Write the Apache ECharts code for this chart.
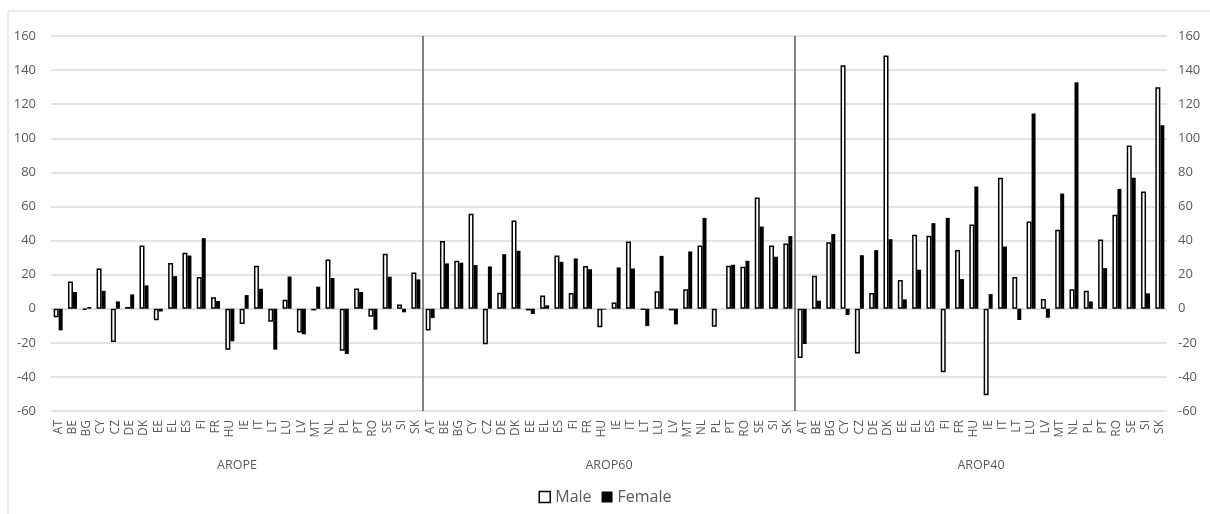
<!DOCTYPE html>
<html><head><meta charset="utf-8">
<script src="https://cdn.jsdelivr.net/npm/echarts@6/dist/echarts.min.js"></script>
<style>html,body{margin:0;padding:0;background:#fff}#c{width:1210px;height:514px}</style>
</head><body><div id="c"></div>
<script>
const countries = ['AT','BE','BG','CY','CZ','DE','DK','EE','EL','ES','FI','FR','HU','IE','IT','LT','LU','LV','MT','NL','PL','PT','RO','SE','SI','SK'];
const groups = ['AROPE','AROP60','AROP40'];
const yTicks = [-60,-40,-20,0,20,40,60,80,100,120,140,160];

const maleAROPE   = [-5,16,-0.5,23.6,-19.5,1,37.1,-6.8,26.8,32.8,18.6,6.8,-24,-9,25.2,-7.6,5.3,-13.9,-1,28.9,-24.6,11.9,-4.7,32.2,2.5,21.3];
const femaleAROPE = [-12.7,9.8,1,10.5,4.3,8.4,13.7,-1.6,19.1,31.2,41.4,4.5,-19.1,8,11.7,-24,18.9,-15,12.9,18,-26.6,9.8,-12.3,18.8,-2.1,17.2];
const maleAROP60   = [-12.7,39.8,28.1,55.7,-20.9,9.4,51.8,-1,7.8,31.2,9.2,25,-10.9,3.7,39.5,-0.5,10.2,-1,11.5,37.1,-10.5,25.2,24.6,65.2,37.1,38.3];
const femaleAROP60 = [-5.5,26.6,27,25.6,24.8,32,34,-3.1,2,27.5,29.5,23.2,-0.5,24.2,23.6,-10.2,31,-9.2,33.6,53.3,0,25.8,28.1,48.2,30.5,42.6];
const maleAROP40   = [-28.9,19.3,39,142.8,-26.2,9.2,148.6,16.8,43.4,42.8,-37.3,34.4,49.4,-50.8,76.8,18.6,51.2,5.7,46.3,11.5,10.5,40.6,55.1,95.7,68.8,129.9];
const femaleAROP40 = [-20.7,4.7,43.8,-3.7,31.4,34.4,40.8,5.5,22.9,50.2,53.3,17.4,71.7,8.6,36.5,-6.6,114.5,-5.3,67.6,132.8,4.3,23.8,70.3,76.8,9,107.6];

const cats = [];
groups.forEach(g => countries.forEach(c => cats.push(g + '|' + c)));
const maleAll = maleAROPE.concat(maleAROP60, maleAROP40);
const femaleAll = femaleAROPE.concat(femaleAROP60, femaleAROP40);

const txt = '#595959';
const font = 'Open Sans';
const chart = echarts.init(document.getElementById('c'));
chart.setOption({
  animation: false,
  backgroundColor: '#fff',
  graphic: [{type:'rect', shape:{x:8, y:11, width:1210, height:520}, style:{fill:'none', stroke:'#d9d9d9', lineWidth:1}, silent:true}],
  grid: {left: 51, right: 43, top: 36, bottom: 103},
  legend: {
    bottom: 4, left: 'center', itemWidth: 11, itemHeight: 11, itemGap: 10,
    textStyle: {color: txt, fontFamily: font, fontSize: 16},
    data: [
      {name:'Male', icon:'rect', itemStyle:{color:'#fff', borderColor:'#000', borderWidth:1.5}},
      {name:'Female', icon:'rect', itemStyle:{color:'#000'}}
    ]
  },
  xAxis: [
    {
      type: 'category', data: cats, position: 'bottom',
      axisLine: {show: false}, axisTick: {show: false},
      axisLabel: {interval: 0, rotate: 90, color: txt, fontFamily: font, fontSize: 12, margin: 9,
        formatter: v => v.split('|')[1]},
      splitLine: {show: false}
    },
    {
      type: 'category', data: groups, position: 'bottom', offset: 40,
      axisLine: {show: false}, axisTick: {show: false},
      axisLabel: {interval: 0, color: txt, fontFamily: font, fontSize: 12.5},
      splitLine: {show: true, interval: 0, showMinLine: false, showMaxLine: false, lineStyle: {color: '#595959', width: 1.5}}
    }
  ],
  yAxis: [
    {
      type: 'value', min: -60, max: 160, interval: 20, position: 'left',
      axisLine: {show: false}, axisTick: {show: false},
      axisLabel: {color: txt, fontFamily: font, fontSize: 13, margin: 15},
      splitLine: {lineStyle: {color: '#d9d9d9', width: 1.5}}
    },
    {
      type: 'value', min: -60, max: 160, interval: 20, position: 'right',
      axisLine: {show: false}, axisTick: {show: false},
      axisLabel: {color: txt, fontFamily: font, fontSize: 13, margin: 11},
      splitLine: {show: false}
    }
  ],
  series: [
    {name: 'Male', type: 'bar', data: maleAll, barWidth: 5, barGap: '0%',
      itemStyle: {color: '#fff', borderColor: '#000', borderWidth: 1.5}},
    {name: 'Female', type: 'bar', data: femaleAll, barWidth: 4,
      itemStyle: {color: '#000'}}
  ]
});
</script></body></html>
